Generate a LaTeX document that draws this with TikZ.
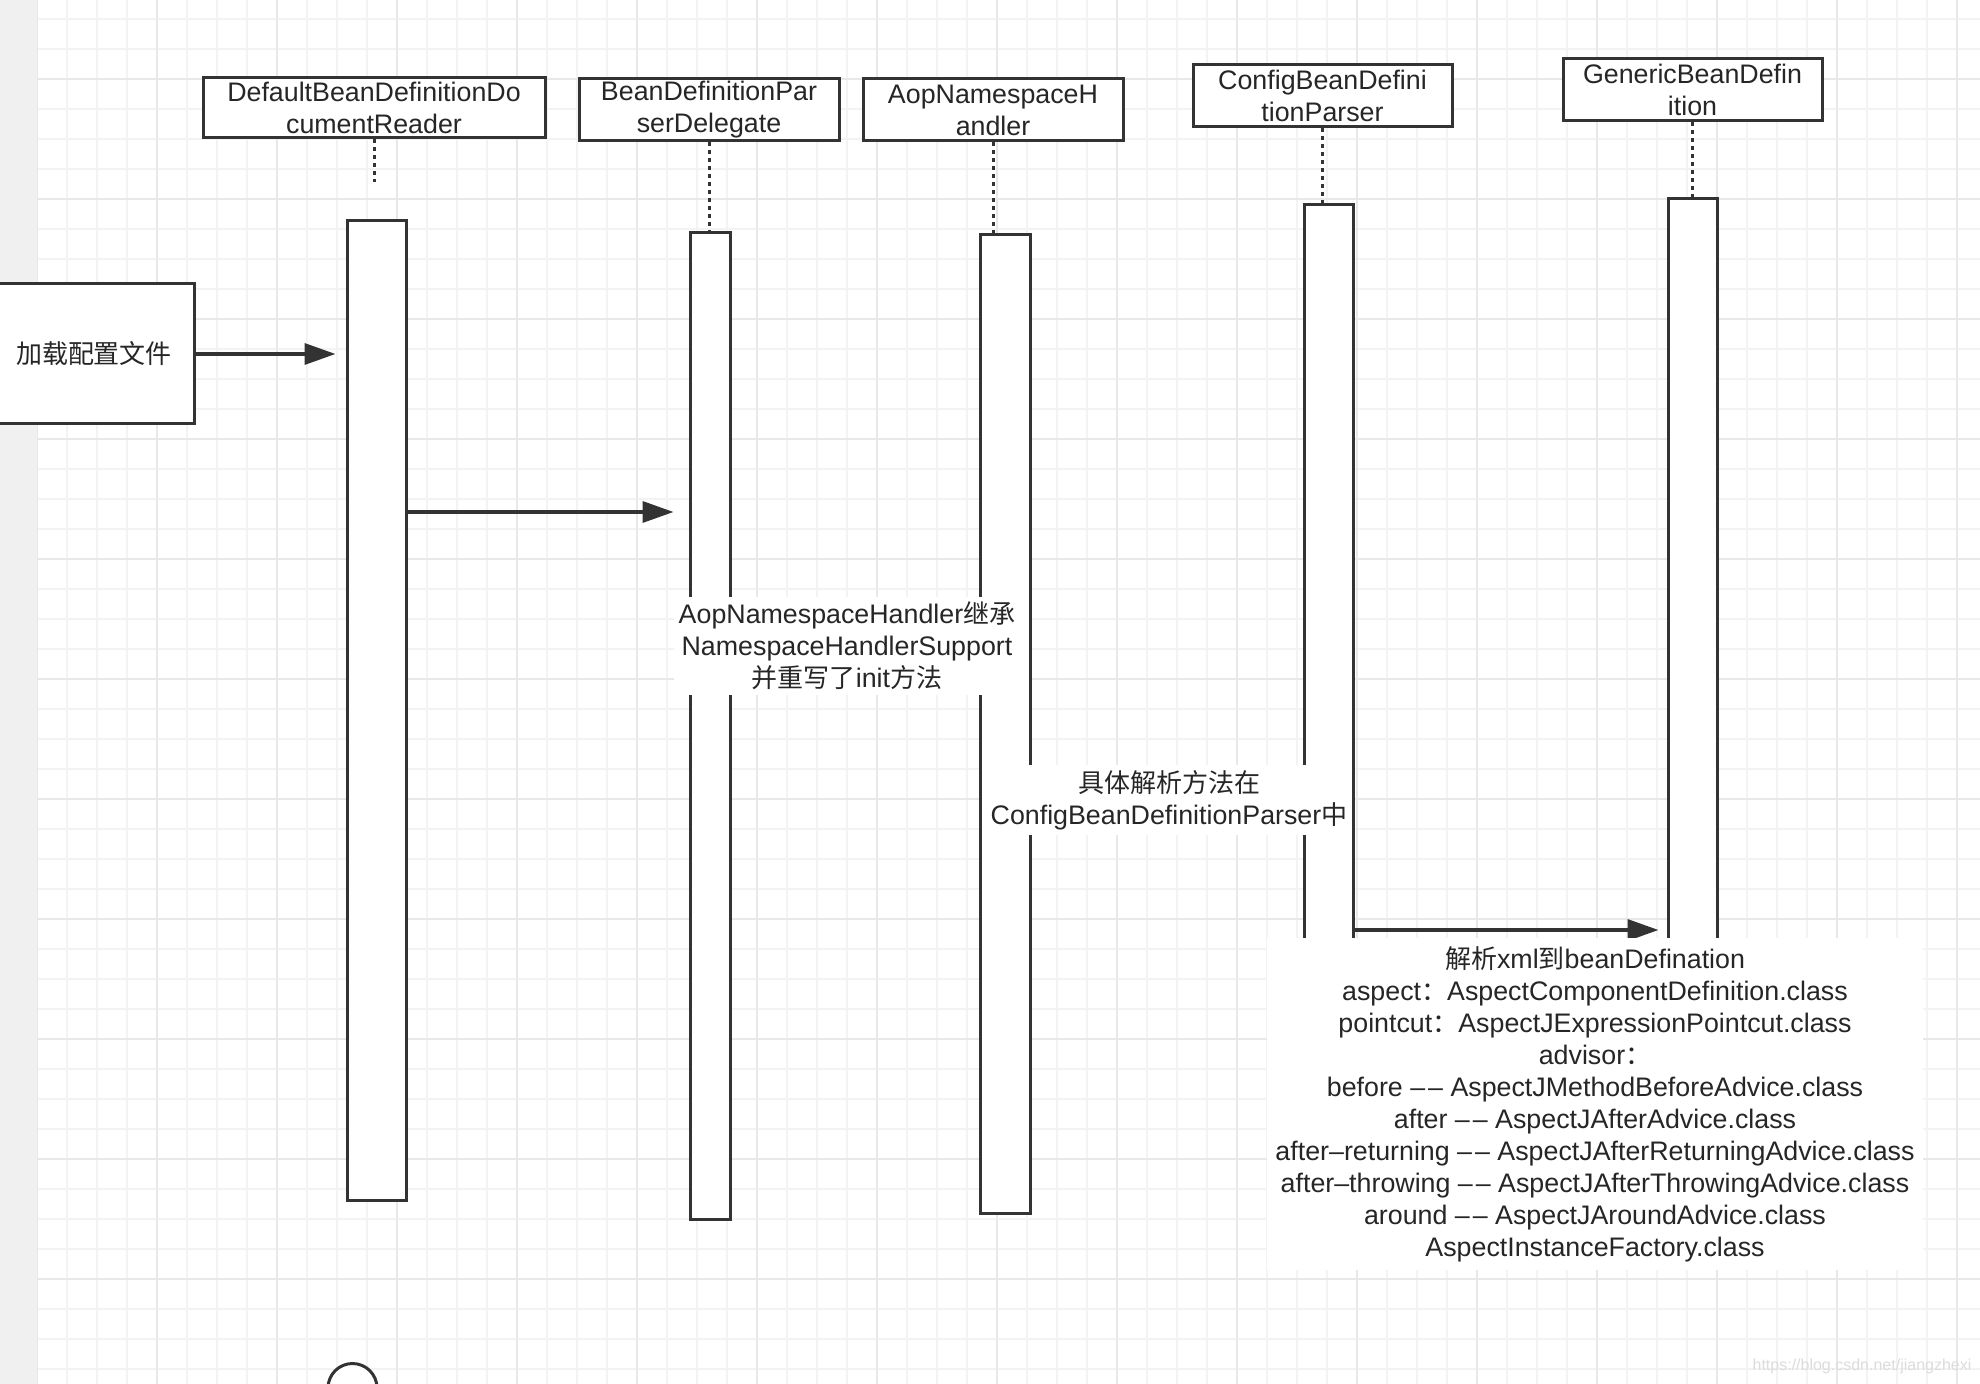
\documentclass[tikz,border=0pt]{standalone}
\usepackage{fontspec}
\setmainfont{Liberation Sans}
\newfontfamily\cjk{Noto Sans CJK SC}[Scale=0.97]
\usetikzlibrary{arrows.meta}
\definecolor{ink}{HTML}{333333}
\definecolor{txt}{HTML}{262626}
\definecolor{gminor}{HTML}{F3F3F3}
\definecolor{gmajor}{HTML}{E8E8E8}
\definecolor{stripc}{HTML}{F0F0F0}
\definecolor{wmark}{HTML}{DCDCDC}
\newcommand{\dd}{\textendash\kern1.5pt\textendash}
\tikzset{
  hdr/.style={draw=ink, line width=1.5pt, fill=white, inner sep=0pt, align=center, text=txt},
  actbar/.style={draw=ink, line width=1.5pt, fill=white, inner sep=0pt},
  life/.style={draw=ink, line width=1.5pt, dash pattern=on 2pt off 2pt},
  msg/.style={draw=ink, line width=1.75pt, -{Triangle[length=15.5pt,width=10.5pt]}},
  lbl/.style={fill=white, inner sep=2.5pt, align=center, text=txt},
  gmin/.style={draw=gminor, line width=1pt},
  gmaj/.style={draw=gmajor, line width=1pt}
}
\begin{document}
\begin{tikzpicture}[x=0.5pt,y=-0.5pt,font=\fontsize{13.4}{16}\selectfont]
\useasboundingbox (0,0) rectangle (1980,1384);
\clip (0,0) rectangle (1980,1384);
% grid background
\fill[white] (0,0) rectangle (1980,1384);
\foreach \x in {37,67,...,1980} \draw[gmin] (\x,0) -- (\x,1384);
\foreach \y in {19,49,...,1384} \draw[gmin] (37,\y) -- (1980,\y);
\foreach \x in {37,157,...,1980} \draw[gmaj] (\x,0) -- (\x,1384);
\foreach \y in {79,199,...,1384} \draw[gmaj] (37,\y) -- (1980,\y);
\fill[stripc] (0,0) rectangle (37,1384);

% headers
\node[hdr, minimum width=171pt, minimum height=30pt] (hA) at (374,108) {DefaultBeanDefinitionDo\\cumentReader};
\node[hdr, minimum width=130pt, minimum height=31pt] (hB) at (709,110) {BeanDefinitionPar\\serDelegate};
\node[hdr, minimum width=130pt, minimum height=31pt] (hC) at (993,110) {AopNamespaceH\\andler};
\node[hdr, minimum width=129.5pt, minimum height=31pt] (hD) at (1322.5,96) {ConfigBeanDefini\\tionParser};
\node[hdr, minimum width=129.5pt, minimum height=31pt] (hE) at (1692.5,90) {GenericBeanDefin\\ition};

% activation bars
\node[actbar, minimum width=29.5pt, minimum height=489.5pt] (bar1) at (376.5,710.5) {};
\node[actbar, minimum width=20pt, minimum height=493pt] (bar2) at (710,726) {};
\node[actbar, minimum width=25pt, minimum height=489pt] (bar3) at (1005,724) {};
\node[actbar, minimum width=24.5pt, minimum height=497.5pt] (bar4) at (1328.5,702.5) {};
\node[actbar, minimum width=24.5pt, minimum height=500.5pt] (bar5) at (1692.5,699.5) {};

% lifelines
\coordinate (lA) at (374,182);
\draw[life] (hA.south) -- (lA);
\draw[life] (hB.south) -- (hB.south |- bar2.north);
\draw[life] (hC.south) -- (hC.south |- bar3.north);
\draw[life] (hD.south) -- (hD.south |- bar4.north);
\draw[life] (hE.south) -- (hE.south |- bar5.north);

% start box
\node[hdr, minimum width=100pt, minimum height=70pt] (load) at (94,354) {\cjk 加载配置文件};

% messages
\coordinate (m2) at (0,512);
\coordinate (m3) at (0,930);
\draw[msg, shorten >=5pt] (load.east) -- (load.east -| bar1.west);
\draw[msg, shorten >=7.5pt] (bar1.east |- m2) -- (bar2.west |- m2);
\draw[msg, shorten >=4pt] (bar4.east |- m3) -- (bar5.west |- m3);

% labels
\node[lbl] (n1) at (847,646) {AopNamespaceHandler{\cjk 继承}\\NamespaceHandlerSupport\\{\cjk 并重写了}init{\cjk 方法}};
\node[lbl] (n2) at (1169,800) {{\cjk 具体解析方法在}\\ConfigBeanDefinitionParser{\cjk 中}};
\node[lbl, inner sep=4pt] (n3) at (1595,1104) {{\cjk 解析}xml{\cjk 到}beanDefination\\
aspect{\cjk ：}AspectComponentDefinition.class\\
pointcut{\cjk ：}AspectJExpressionPointcut.class\\
advisor{\cjk ：}\\
before \dd{} AspectJMethodBeforeAdvice.class\\
after \dd{} AspectJAfterAdvice.class\\
after\textendash returning \dd{} AspectJAfterReturningAdvice.class\\
after\textendash throwing \dd{} AspectJAfterThrowingAdvice.class\\
around \dd{} AspectJAroundAdvice.class\\
AspectInstanceFactory.class};

% partial circle at the bottom
\node[actbar, circle, minimum size=24.5pt] (head) at (352.5,1388) {};

% watermark
\node[text=wmark, font=\fontsize{8}{9}\selectfont, inner sep=0pt] (wm) at (1862,1366) {https://blog.csdn.net/jiangzhexi};
\end{tikzpicture}
\end{document}
